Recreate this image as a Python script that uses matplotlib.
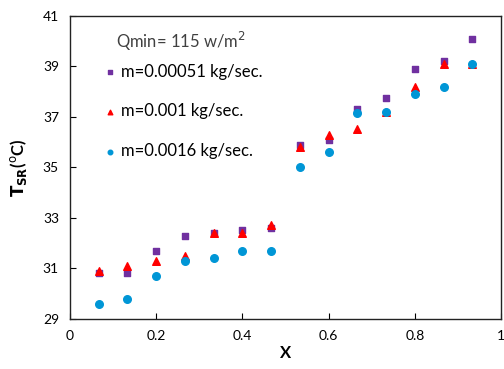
import matplotlib
matplotlib.use("Agg")
import matplotlib.pyplot as plt

plt.rcParams['font.family'] = ['Lato', 'DejaVu Sans']

x = [0.0667, 0.1333, 0.2, 0.2667, 0.3333, 0.4, 0.4667, 0.5333, 0.6, 0.6667, 0.7333, 0.8, 0.8667, 0.9333]
t_00051 = [30.8, 30.8, 31.7, 32.3, 32.4, 32.5, 32.6, 35.9, 36.1, 37.3, 37.75, 38.9, 39.2, 40.1]
t_001 = [30.9, 31.1, 31.3, 31.5, 32.4, 32.4, 32.7, 35.8, 36.3, 36.5, 37.2, 38.2, 39.1, 39.1]
t_0016 = [29.6, 29.8, 30.7, 31.3, 31.4, 31.7, 31.7, 35.0, 35.6, 37.15, 37.2, 37.9, 38.2, 39.1]
labels = ["m=0.00051 kg/sec.", "m=0.001 kg/sec.", "m=0.0016 kg/sec."]
title = "Qmin= 115 w/m$^2$"
xticks = [0, 0.2, 0.4, 0.6, 0.8, 1]
xticklabels = ["0", "0.2", "0.4", "0.6", "0.8", "1"]
yticks = [29, 31, 33, 35, 37, 39, 41]

fig = plt.figure(figsize=(5.04, 3.69), dpi=100)
ax = fig.add_axes([0.139, 0.136, 0.855, 0.821])

ax.scatter(x, t_00051, marker='s', s=22, color='#7030A0', label=labels[0], zorder=3)
ax.scatter(x, t_001, marker='^', s=30, color='#FF0000', label=labels[1], zorder=4)
ax.scatter(x, t_0016, marker='o', s=30, color='#0096D6', label=labels[2], zorder=5)

ax.set_xlim(0, 1)
ax.set_ylim(29, 41)
ax.set_xticks(xticks)
ax.set_xticklabels(xticklabels)
ax.set_yticks(yticks)
ax.tick_params(direction='in', length=4, labelsize=10, colors='black', pad=8)
for sp in ax.spines.values():
    sp.set_linewidth(1.0)
    sp.set_color('#222222')

ax.set_xlabel("X", fontsize=12, fontweight='bold', labelpad=2)
ax.set_ylabel(r"$\mathbf{T_{SR}}$($^{\mathrm{o}}$C)", fontsize=12, fontweight='bold', labelpad=4)
ax.yaxis.set_label_coords(-0.095, 0.5)

ax.text(0.107, 0.914, title, transform=ax.transAxes, fontsize=12, color='#404040',
        va='center', ha='left')

leg = ax.legend(loc='upper left', bbox_to_anchor=(0.080, 0.842), frameon=False,
                borderaxespad=0, borderpad=0,
                fontsize=12, labelspacing=1.42, handlelength=0.6, handletextpad=0.4,
                markerscale=0.6)

fig.savefig("out.png", dpi=100)
